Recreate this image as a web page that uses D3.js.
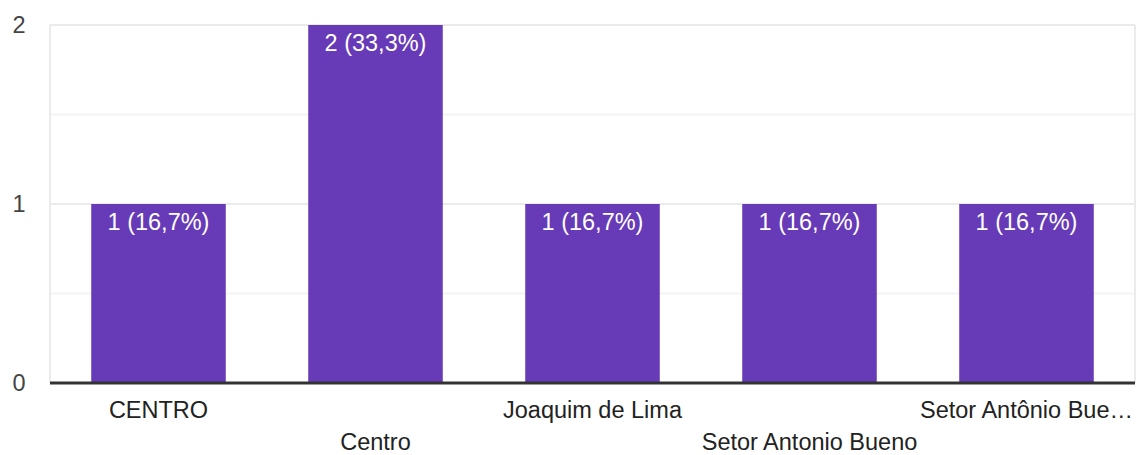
<!DOCTYPE html>
<html>
<head>
<meta charset="utf-8">
<script src="https://cdnjs.cloudflare.com/ajax/libs/d3/7.8.5/d3.min.js"></script>
<style>
  body { margin: 0; background: #fff; }
  text { font-family: "Liberation Sans", Arial, sans-serif; }
</style>
</head>
<body>
<svg id="chart" width="1137" height="455"></svg>
<script>
// data
var categories = ["CENTRO", "Centro", "Joaquim de Lima", "Setor Antonio Bueno", "Setor Antônio Bue…"];
var counts = [1, 2, 1, 1, 1];
var labels = ["1 (16,7%)", "2 (33,3%)", "1 (16,7%)", "1 (16,7%)", "1 (16,7%)"];
var yTicks = [0, 1, 2];
var yGrid = [0.5, 1, 1.5, 2];

var svg = d3.select("#chart");
var plotLeft = 50, plotRight = 1135, plotTop = 25, plotBottom = 383;
var fontSize = 23.5;

var x = d3.scaleBand().domain(categories).range([plotLeft, plotRight]).paddingInner(0.38).paddingOuter(0.19);
var y = d3.scaleLinear().domain([0, 2]).range([plotBottom, plotTop]);

// gridlines
svg.append("g").selectAll("line")
    .data(yGrid)
  .enter().append("line")
    .attr("x1", plotLeft).attr("x2", plotRight)
    .attr("y1", function (d) { return y(d); })
    .attr("y2", function (d) { return y(d); })
    .attr("stroke", function (d) { return d % 1 === 0 ? "#ebebeb" : "#f3f3f3"; })
    .attr("stroke-width", 2);

// side borders
svg.append("line").attr("x1", plotLeft).attr("x2", plotLeft).attr("y1", plotTop).attr("y2", plotBottom)
    .attr("stroke", "#ebebeb").attr("stroke-width", 2);
svg.append("line").attr("x1", plotRight).attr("x2", plotRight).attr("y1", plotTop).attr("y2", plotBottom)
    .attr("stroke", "#ebebeb").attr("stroke-width", 2);

// bars
svg.append("g").selectAll("rect")
    .data(counts)
  .enter().append("rect")
    .attr("x", function (d, i) { return x(categories[i]); })
    .attr("y", function (d) { return y(d); })
    .attr("width", x.bandwidth())
    .attr("height", function (d) { return y(0) - y(d); })
    .attr("fill", "#673ab7");

// bar labels
svg.append("g").selectAll("text")
    .data(counts)
  .enter().append("text")
    .attr("x", function (d, i) { return x(categories[i]) + x.bandwidth() / 2; })
    .attr("y", function (d) { return y(d) + 26; })
    .attr("text-anchor", "middle")
    .attr("fill", "#fff")
    .attr("font-size", fontSize)
    .text(function (d, i) { return labels[i]; });

// baseline
svg.append("line").attr("x1", plotLeft).attr("x2", plotRight).attr("y1", y(0)).attr("y2", y(0))
    .attr("stroke", "#333").attr("stroke-width", 3);

// y tick labels
svg.append("g").selectAll("text")
    .data(yTicks)
  .enter().append("text")
    .attr("x", 19)
    .attr("y", function (d) { return y(d) + 8; })
    .attr("text-anchor", "middle")
    .attr("fill", "#444")
    .attr("font-size", fontSize)
    .text(function (d) { return d; });

// x labels, alternating rows
svg.append("g").selectAll("text")
    .data(categories)
  .enter().append("text")
    .attr("x", function (d) { return x(d) + x.bandwidth() / 2; })
    .attr("y", function (d, i) { return i % 2 === 0 ? 418 : 450; })
    .attr("text-anchor", "middle")
    .attr("fill", "#222")
    .attr("font-size", fontSize)
    .text(function (d) { return d; });
</script>
</body>
</html>
